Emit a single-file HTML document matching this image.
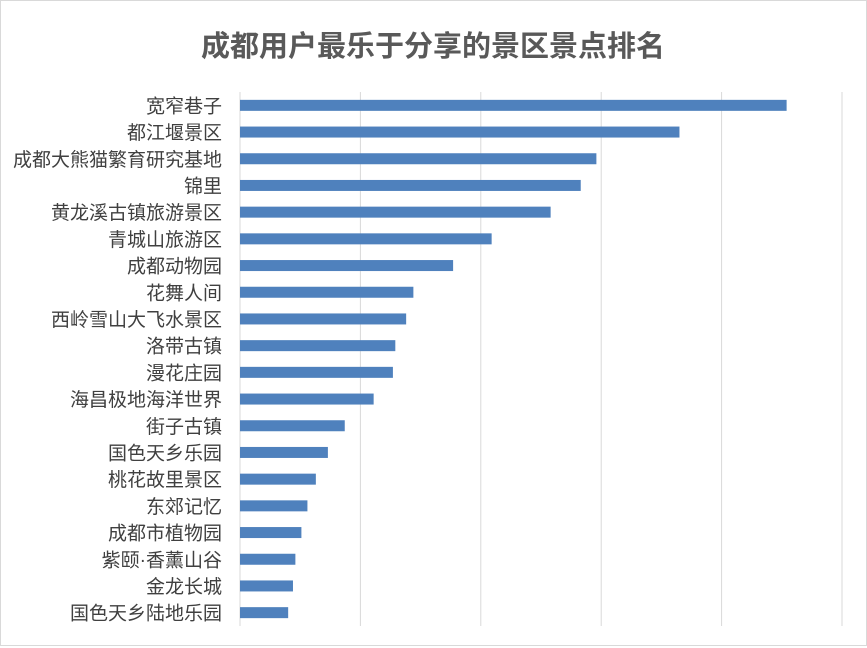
<!DOCTYPE html>
<html><head><meta charset="utf-8"><style>
body{margin:0;background:#fff;}
#c{position:relative;width:867px;height:648px;overflow:hidden;font-family:"Liberation Sans","Noto Sans CJK SC",sans-serif;}
</style></head><body>
<div id="c">
<svg id="s" width="867" height="648">
<rect x="0.5" y="0.5" width="866" height="645" fill="#fff" stroke="#d9d9d9"/>
<text x="433" y="56" text-anchor="middle" font-size="29" font-weight="bold" fill="#595959" font-family="Liberation Sans, Noto Sans CJK SC, sans-serif">成都用户最乐于分享的景区景点排名</text>
<g id="grid"></g><g id="bars"></g><g id="labels"></g>
</svg>
</div>
<script>
const categories=["宽窄巷子","都江堰景区","成都大熊猫繁育研究基地","锦里","黄龙溪古镇旅游景区","青城山旅游区","成都动物园","花舞人间","西岭雪山大飞水景区","洛带古镇","漫花庄园","海昌极地海洋世界","街子古镇","国色天乡乐园","桃花故里景区","东郊记忆","成都市植物园","紫颐·香薰山谷","金龙长城","国色天乡陆地乐园"];
const values=[4.54,3.65,2.96,2.83,2.58,2.09,1.77,1.44,1.38,1.29,1.27,1.11,0.87,0.73,0.63,0.56,0.51,0.46,0.44,0.40];
const ticks=[0,1,2,3,4,5];
const NS="http://www.w3.org/2000/svg";
const x0=240,x1=842,y0=92,y1=626,maxV=5;
const xs=v=>x0+(v/maxV)*(x1-x0);
const band=(y1-y0)/categories.length;
const yc=i=>y0+band*(i+0.5);
const grid=document.getElementById('grid'),bars=document.getElementById('bars'),labels=document.getElementById('labels');
ticks.forEach(t=>{
 const l=document.createElementNS(NS,'line');
 l.setAttribute('x1',xs(t));l.setAttribute('x2',xs(t));l.setAttribute('y1',y0);l.setAttribute('y2',y1);
 l.setAttribute('stroke','#d9d9d9');l.setAttribute('stroke-width','1');
 
 
 grid.appendChild(l);
});
categories.forEach((c,i)=>{
 const r=document.createElementNS(NS,'rect');
 r.setAttribute('x',x0);r.setAttribute('y',yc(i)-5.5);r.setAttribute('width',xs(values[i])-x0);r.setAttribute('height',11);
 r.setAttribute('fill','#4f81bd');
 
 
 bars.appendChild(r);
 const t=document.createElementNS(NS,'text');
 t.setAttribute('x',222);t.setAttribute('y',yc(i)+7);t.setAttribute('text-anchor','end');
 t.setAttribute('font-size','19');t.setAttribute('fill','#404040');
 t.setAttribute('font-family','Liberation Sans, Noto Sans CJK SC, sans-serif');
 t.textContent=c;
 
 
 labels.appendChild(t);
});
</script>
</body></html>
